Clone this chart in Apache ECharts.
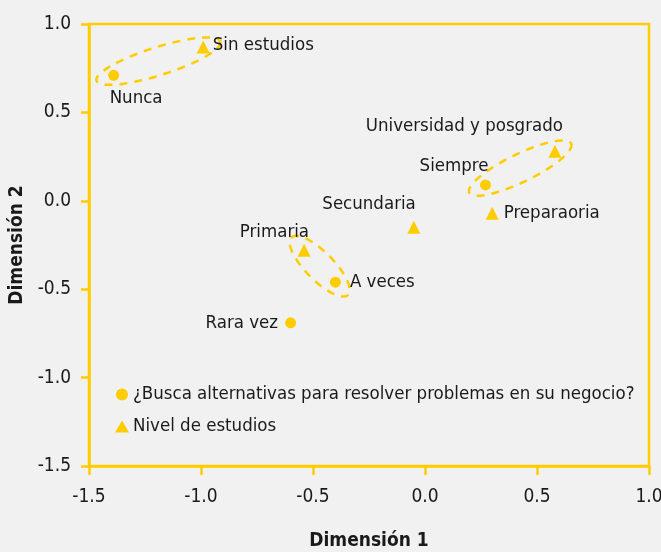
<!DOCTYPE html>
<html>
<head>
<meta charset="utf-8">
<script src="https://cdn.jsdelivr.net/npm/echarts@6/dist/echarts.min.js"></script>
<style>
  html, body { margin: 0; padding: 0; background: #f1f1f1; }
  #chart { width: 661px; height: 552px; }
</style>
</head>
<body>
<div id="chart"></div>
<script>
// categorias de frecuencia (circulos)
const freqNames = ['Nunca', 'Rara vez', 'A veces', 'Siempre'];
const freqX = [-1.39, -0.60, -0.40, 0.27];
const freqY = [0.71, -0.69, -0.46, 0.09];

// nivel de estudios (triangulos)
const eduNames = ['Sin estudios', 'Primaria', 'Secundaria', 'Preparaoria', 'Universidad y posgrado'];
const eduX = [-0.99, -0.54, -0.05, 0.30, 0.58];
const eduY = [0.87, -0.28, -0.15, -0.07, 0.28];

// pares encerrados con elipse punteada
const groups = [['Nunca', 'Sin estudios'], ['A veces', 'Primaria'], ['Siempre', 'Universidad y posgrado']];

const seriesNames = ['¿Busca alternativas para resolver problemas en su negocio?', 'Nivel de estudios'];

const YELLOW = '#ffcc00';
const INK = '#1a1a1a';
const FONT = "'Liberation Sans Narrow', 'DejaVu Sans Condensed', sans-serif";

// donde va cada etiqueta
const labelPos = {
  'Nunca': { position: 'bottom', align: 'left', offset: [-4, 3] },
  'Rara vez': { position: 'left', distance: 7 },
  'A veces': { position: 'right', distance: 9 },
  'Siempre': { position: 'top', align: 'right', offset: [3, 1] },
  'Sin estudios': { position: 'right', distance: 3, offset: [0, -2] },
  'Primaria': { position: 'top', align: 'right', offset: [5, 3] },
  'Secundaria': { position: 'top', align: 'right', offset: [2, -2] },
  'Preparaoria': { position: 'right', distance: 5 },
  'Universidad y posgrado': { position: 'top', align: 'right', offset: [8, -4] }
};

function mkData(names, xs, ys) {
  return names.map((n, i) => ({
    name: n,
    value: [xs[i], ys[i]],
    label: Object.assign({ color: INK, opacity: 1 }, labelPos[n])
  }));
}

const allPts = {};
freqNames.forEach((n, i) => allPts[n] = [freqX[i], freqY[i]]);
eduNames.forEach((n, i) => allPts[n] = [eduX[i], eduY[i]]);
const ellipseData = groups.map(g => allPts[g[0]].concat(allPts[g[1]]));

let chart = echarts.init(document.getElementById('chart'));

const ptLabel = {
  show: true, formatter: '{b}', fontFamily: FONT, fontSize: 18.5, color: INK, opacity: 1
};

chart.setOption({
  backgroundColor: '#f1f1f1',
  textStyle: { fontFamily: FONT, color: INK },
  grid: {
    left: 89, right: 12, top: 24, bottom: 86,
    outerBoundsMode: 'none',
    containLabel: false,
    show: true, borderColor: YELLOW, borderWidth: 2.5, backgroundColor: 'transparent'
  },
  legend: {
    orient: 'vertical',
    left: 110, top: 380,
    itemGap: 13,
    itemWidth: 14, itemHeight: 12,
    textStyle: { fontFamily: FONT, fontSize: 18.5, color: INK, padding: [0, 0, 0, -1] },
    data: [
      { name: seriesNames[0], icon: 'circle', itemStyle: { color: YELLOW } },
      { name: seriesNames[1], icon: 'triangle', itemStyle: { color: YELLOW } }
    ]
  },
  xAxis: {
    type: 'value', min: -1.5, max: 1.0, interval: 0.5,
    name: 'Dimensión 1', nameLocation: 'middle', nameGap: 66,
    nameTextStyle: { fontFamily: FONT, fontSize: 19, fontWeight: 'bold', color: INK },
    axisLine: { show: true, onZero: false, lineStyle: { color: YELLOW, width: 2.5 } },
    axisTick: { show: true, length: 9, lineStyle: { color: YELLOW, width: 2.5 } },
    axisLabel: { fontSize: 19, color: INK, margin: 22, formatter: v => v.toFixed(1) },
    splitLine: { show: false }
  },
  yAxis: {
    type: 'value', min: -1.5, max: 1.0, interval: 0.5,
    name: 'Dimensión 2', nameLocation: 'middle', nameGap: 60,
    nameTextStyle: { fontFamily: FONT, fontSize: 19, fontWeight: 'bold', color: INK },
    axisLine: { show: true, onZero: false, lineStyle: { color: YELLOW, width: 2.5 } },
    axisTick: { show: true, length: 8, lineStyle: { color: YELLOW, width: 2.5 } },
    axisLabel: { fontSize: 19, color: INK, margin: 18, formatter: v => v.toFixed(1) },
    splitLine: { show: false }
  },
  series: [
    {
      type: 'custom',
      silent: true,
      z: 1,
      encode: { x: [0, 2], y: [1, 3] },
      data: ellipseData,
      renderItem: function (params, api) {
        const p1 = api.coord([api.value(0), api.value(1)]);
        const p2 = api.coord([api.value(2), api.value(3)]);
        const cx = (p1[0] + p2[0]) / 2, cy = (p1[1] + p2[1]) / 2;
        const dx = p2[0] - p1[0], dy = p2[1] - p1[1];
        const len = Math.sqrt(dx * dx + dy * dy);
        const ux = dx / len, uy = dy / len;
        const a = len / 2 + 18, b = 14;
        const pts = [];
        for (let k = 0; k < 90; k++) {
          const t = k / 90 * Math.PI * 2;
          pts.push([
            cx + ux * a * Math.cos(t) - uy * b * Math.sin(t),
            cy + uy * a * Math.cos(t) + ux * b * Math.sin(t)
          ]);
        }
        return {
          type: 'polygon',
          shape: { points: pts },
          style: { fill: 'none', stroke: YELLOW, lineWidth: 2.5, lineDash: [8, 7] }
        };
      }
    },
    {
      name: seriesNames[0],
      type: 'scatter',
      symbol: 'circle',
      symbolSize: 11,
      itemStyle: { color: YELLOW, opacity: 1 },
      z: 3,
      label: ptLabel,
      data: mkData(freqNames, freqX, freqY)
    },
    {
      name: seriesNames[1],
      type: 'scatter',
      symbol: 'triangle',
      symbolSize: 13,
      itemStyle: { color: YELLOW, opacity: 1 },
      z: 3,
      label: ptLabel,
      data: mkData(eduNames, eduX, eduY)
    }
  ]
});
</script>
</body>
</html>
